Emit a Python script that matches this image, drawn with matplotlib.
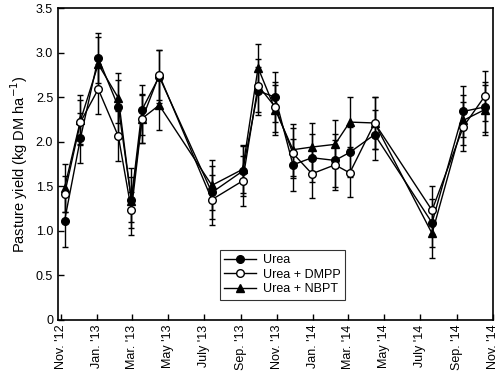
import matplotlib
matplotlib.use("Agg")
import matplotlib.pyplot as plt
from matplotlib.lines import Line2D
import pandas as pd

plt.rcParams['font.family'] = ['Liberation Sans', 'DejaVu Sans']

# sampling dates
dates = pd.to_datetime([
    "2012-11-07", "2012-12-04", "2013-01-03", "2013-02-06", "2013-02-28",
    "2013-03-18", "2013-04-16", "2013-07-14", "2013-09-04", "2013-09-30",
    "2013-10-29", "2013-11-28", "2013-12-30", "2014-02-07", "2014-03-04",
    "2014-04-15", "2014-07-21", "2014-09-12", "2014-10-18"])

urea = [1.11, 2.04, 2.94, 2.39, 1.35, 2.36, 2.73, 1.43, 1.67, 2.57,
        2.50, 1.74, 1.82, 1.79, 1.88, 2.08, 1.09, 2.34, 2.39]
urea_err = [0.29, 0.28, 0.28, 0.30, 0.25, 0.28, 0.30, 0.30, 0.28, 0.27,
            0.28, 0.29, 0.27, 0.30, 0.28, 0.28, 0.27, 0.29, 0.28]

dmpp = [1.41, 2.22, 2.59, 2.06, 1.23, 2.25, 2.75, 1.35, 1.56, 2.63,
        2.39, 1.87, 1.64, 1.74, 1.65, 2.21, 1.23, 2.17, 2.51]
dmpp_err = [0.20, 0.25, 0.28, 0.28, 0.20, 0.27, 0.28, 0.28, 0.28, 0.30,
            0.28, 0.28, 0.27, 0.28, 0.27, 0.29, 0.27, 0.28, 0.28]

nbpt = [1.48, 2.24, 2.87, 2.49, 1.33, 2.26, 2.41, 1.51, 1.69, 2.83,
        2.36, 1.91, 1.94, 1.97, 2.22, 2.21, 0.97, 2.24, 2.36]
nbpt_err = [0.27, 0.28, 0.30, 0.28, 0.38, 0.28, 0.28, 0.28, 0.27, 0.27,
            0.28, 0.29, 0.27, 0.27, 0.28, 0.29, 0.27, 0.28, 0.28]

tick_dates = pd.date_range("2012-11-01", "2014-11-01", freq="2MS")
tick_labels = ["Nov. '12", "Jan. '13", "Mar. '13", "May '13", "July '13",
               "Sep. '13", "Nov. '13", "Jan. '14", "Mar. '14", "May '14",
               "July '14", "Sep. '14", "Nov. '14"]

fig = plt.figure(figsize=(5.0, 3.84), dpi=100)
ax = fig.add_axes([0.116, 0.167, 0.870, 0.812])

common = dict(color='black', lw=1.0, ecolor='black', elinewidth=1.0,
              capsize=2, capthick=1.0, ms=5.5)
ax.errorbar(dates, urea, yerr=urea_err, fmt='-o', mfc='black', mec='black',
            zorder=3, **common)
ax.errorbar(dates, dmpp, yerr=dmpp_err, fmt='-o', mfc='white', mec='black',
            zorder=4, **common)
ax.errorbar(dates, nbpt, yerr=nbpt_err, fmt='-^', mfc='black', mec='black',
            zorder=2, **common)

ax.set_xlim(pd.Timestamp("2012-10-27"), pd.Timestamp("2014-11-01"))
ax.set_ylim(0, 3.5)
ax.set_xticks(tick_dates)
ax.set_xticklabels(tick_labels, rotation=90, fontsize=9)
ax.set_yticks([0, 0.5, 1.0, 1.5, 2.0, 2.5, 3.0, 3.5])
ax.set_yticklabels(['0', '0.5', '1.0', '1.5', '2.0', '2.5', '3.0', '3.5'], fontsize=9)
ax.tick_params(direction='in', length=4, width=1.0)
for s in ax.spines.values():
    s.set_linewidth(1.2)

ax.set_ylabel('Pasture yield (kg DM ha$^{-1}$)', fontsize=10.5)

handles = [
    Line2D([], [], color='black', lw=1.0, marker='o', ms=5.5, mfc='black', mec='black'),
    Line2D([], [], color='black', lw=1.0, marker='o', ms=5.5, mfc='white', mec='black'),
    Line2D([], [], color='black', lw=1.0, marker='^', ms=5.5, mfc='black', mec='black'),
]
leg = ax.legend(handles, ['Urea', 'Urea + DMPP', 'Urea + NBPT'],
                loc='lower left', bbox_to_anchor=(0.357, 0.045), fontsize=9,
                frameon=True, fancybox=False, edgecolor='black',
                handlelength=2.6, borderpad=0.35, labelspacing=0.2,
                handletextpad=0.5)
leg.get_frame().set_linewidth(0.8)

fig.savefig("out.png", dpi=100)
